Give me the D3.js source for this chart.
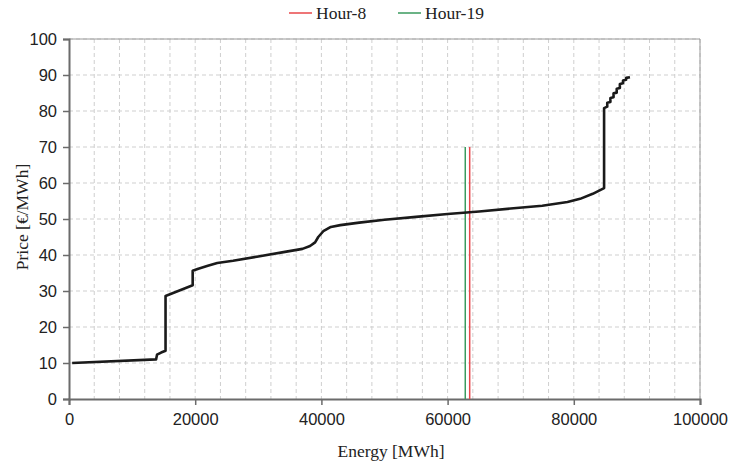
<!DOCTYPE html>
<html>
<head>
<meta charset="utf-8">
<script src="https://cdn.jsdelivr.net/npm/d3@7"></script>
<style>
  body { margin: 0; background: #fff; }
  .grid line { stroke: #cfcfcf; stroke-dasharray: 4,3; stroke-width: 1; }
  .axis path, .axis line { stroke: #6b6b6b; }
  .axis text { font-family: "Liberation Sans", Arial, sans-serif; font-size: 16.5px; fill: #222; }
  .title { font-family: "Liberation Serif", "Times New Roman", serif; font-size: 17.5px; fill: #222; }
</style>
</head>
<body>
<svg id="chart" width="734" height="465"></svg>
<script>
// offer curve
var energy = [500, 13800, 13950, 14600, 15300, 15300, 19600, 19600, 20500, 22000, 23500, 26000, 30000, 34000, 37000, 38200, 39000, 39500, 40300, 41500, 43000, 46000, 50000, 55000, 60000, 65000, 70000, 75000, 79000, 81000, 83000, 84800, 84800,
              85300, 85300, 85800, 85800, 86300, 86300, 86800, 86800, 87300, 87300, 87800, 87800, 88300, 88300, 88900];
var price  = [10.0, 11.0, 12.3, 12.9, 13.4, 28.6, 31.6, 35.6, 36.2, 37.0, 37.8, 38.4, 39.6, 40.8, 41.7, 42.5, 43.5, 45.0, 46.6, 47.8, 48.3, 49.0, 49.8, 50.6, 51.4, 52.1, 52.9, 53.7, 54.7, 55.6, 57.0, 58.6, 80.8,
              81.2, 82.3, 82.5, 83.6, 83.8, 84.9, 85.1, 86.2, 86.4, 87.5, 87.7, 88.5, 88.7, 89.2, 89.4];

var hours = ["Hour-19", "Hour-8"];
var hourEnergy = [62800, 63500];
var hourTop = [70, 70];
var hourColors = ["#3a9a5e", "#e8474a"];

var xTicks = [0, 20000, 40000, 60000, 80000, 100000];
var yTicks = [0, 10, 20, 30, 40, 50, 60, 70, 80, 90, 100];

var svg = d3.select("#chart");
var pLeft = 69, pRight = 700, pTop = 39, pBottom = 399;

var x = d3.scaleLinear().domain([0, 100000]).range([pLeft, pRight]);
var y = d3.scaleLinear().domain([0, 100]).range([pBottom, pTop]);

// grid
var g = svg.append("g").attr("class", "grid");
g.selectAll("line.v")
    .data(d3.range(4000, 100001, 4000))
    .enter().append("line")
    .attr("x1", function(d){ return x(d); })
    .attr("x2", function(d){ return x(d); })
    .attr("y1", pTop).attr("y2", pBottom);
g.selectAll("line.h")
    .data(yTicks.slice(1))
    .enter().append("line")
    .attr("x1", pLeft).attr("x2", pRight)
    .attr("y1", function(d){ return y(d); })
    .attr("y2", function(d){ return y(d); });

// frame top/right
svg.append("line").attr("x1", pLeft).attr("x2", pRight).attr("y1", pTop).attr("y2", pTop)
    .attr("stroke", "#9a9a9a").attr("stroke-width", 1);
svg.append("line").attr("x1", pRight).attr("x2", pRight).attr("y1", pTop).attr("y2", pBottom)
    .attr("stroke", "#9a9a9a").attr("stroke-width", 1);

// axes
svg.append("g").attr("class", "axis")
    .attr("transform", "translate(0," + pBottom + ")")
    .call(d3.axisBottom(x).tickValues(xTicks).tickFormat(d3.format("d")).tickSizeOuter(0).tickSize(6).tickPadding(8));
svg.append("g").attr("class", "axis")
    .attr("transform", "translate(" + pLeft + ",0)")
    .call(d3.axisLeft(y).tickValues(yTicks).tickSizeOuter(0).tickSize(6).tickPadding(6));
svg.selectAll(".axis path").attr("stroke-width", 2);
svg.selectAll(".axis line").attr("stroke-width", 1.5);

// hour lines
svg.selectAll("line.hour")
    .data(hours)
    .enter().append("line")
    .attr("class", "hour")
    .attr("x1", function(d, i){ return x(hourEnergy[i]); })
    .attr("x2", function(d, i){ return x(hourEnergy[i]); })
    .attr("y1", y(0))
    .attr("y2", function(d, i){ return y(hourTop[i]); })
    .attr("stroke", function(d, i){ return hourColors[i]; })
    .attr("stroke-width", 1.5);

// curve
var line = d3.line()
    .x(function(d){ return x(d[0]); })
    .y(function(d){ return y(d[1]); });
svg.append("path")
    .datum(d3.zip(energy, price))
    .attr("d", line)
    .attr("fill", "none")
    .attr("stroke", "#1a1a1a")
    .attr("stroke-width", 2.6)
    .attr("stroke-linejoin", "round");

// titles
svg.append("text").attr("class", "title")
    .attr("x", 391).attr("y", 457)
    .attr("text-anchor", "middle")
    .text("Energy [MWh]");
svg.append("text").attr("class", "title")
    .attr("transform", "translate(28,217) rotate(-90)")
    .attr("text-anchor", "middle")
    .text("Price [€/MWh]");

// legend
var legendX = [289, 398];
var legendOrder = [1, 0];
legendOrder.forEach(function(k, j) {
    svg.append("line")
        .attr("x1", legendX[j]).attr("x2", legendX[j] + 23)
        .attr("y1", 13).attr("y2", 13)
        .attr("stroke", hourColors[k]).attr("stroke-width", 1.5);
    svg.append("text").attr("class", "title")
        .attr("x", legendX[j] + 27).attr("y", 19)
        .text(hours[k]);
});
</script>
</body>
</html>
